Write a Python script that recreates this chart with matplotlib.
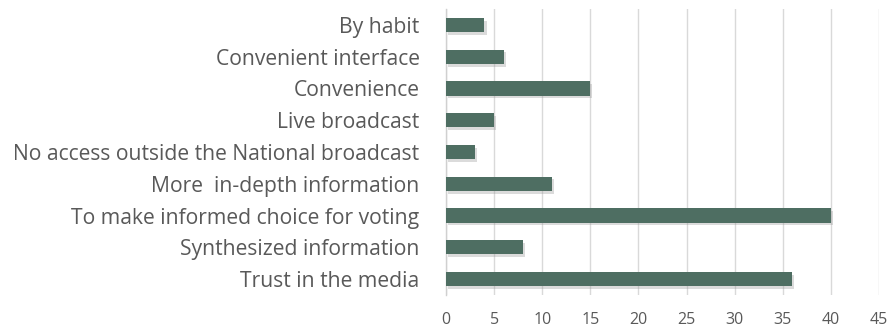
import matplotlib
matplotlib.use("Agg")
import matplotlib.pyplot as plt
import matplotlib.patheffects as pe

categories = [
    "By habit",
    "Convenient interface",
    "Convenience",
    "Live broadcast",
    "No access outside the National broadcast",
    "More  in-depth information",
    "To make informed choice for voting",
    "Synthesized information",
    "Trust in the media",
]
values = [4, 6, 15, 5, 3, 11, 40, 8, 36]
xticks = [0, 5, 10, 15, 20, 25, 30, 35, 40, 45]

plt.rcParams["font.family"] = ["Open Sans", "DejaVu Sans"]

fig = plt.figure(figsize=(8.88, 3.28), dpi=100)
ax = fig.add_axes([446 / 888, 1 - 295 / 328, 433 / 888, 286 / 328])

ypos = list(range(len(categories)))
bars = ax.barh(ypos, values, height=0.45, color="#4e6e62", zorder=3)
for b in bars:
    b.set_path_effects([pe.SimplePatchShadow(offset=(1.5, -2), shadow_rgbFace="#999999", alpha=0.35),
                        pe.Normal()])

ax.set_ylim(len(categories) - 0.5, -0.5)
ax.set_xlim(0, 45)
ax.set_yticks(ypos)
ax.set_yticklabels(categories, fontsize=15.2, color="#595959")
ax.set_xticks(xticks)
ax.set_xticklabels([str(t) for t in xticks], fontsize=11.5, color="#595959")
ax.tick_params(axis="both", length=0)
ax.tick_params(axis="y", pad=19)
ax.tick_params(axis="x", pad=12)

ax.grid(axis="x", color="#d9d9d9", linewidth=1, zorder=0)
for s in ["top", "right", "bottom"]:
    ax.spines[s].set_visible(False)
ax.spines["left"].set_color("#d0d0d0")
ax.spines["left"].set_linewidth(1)

fig.savefig("out.png", dpi=100, facecolor="white")
